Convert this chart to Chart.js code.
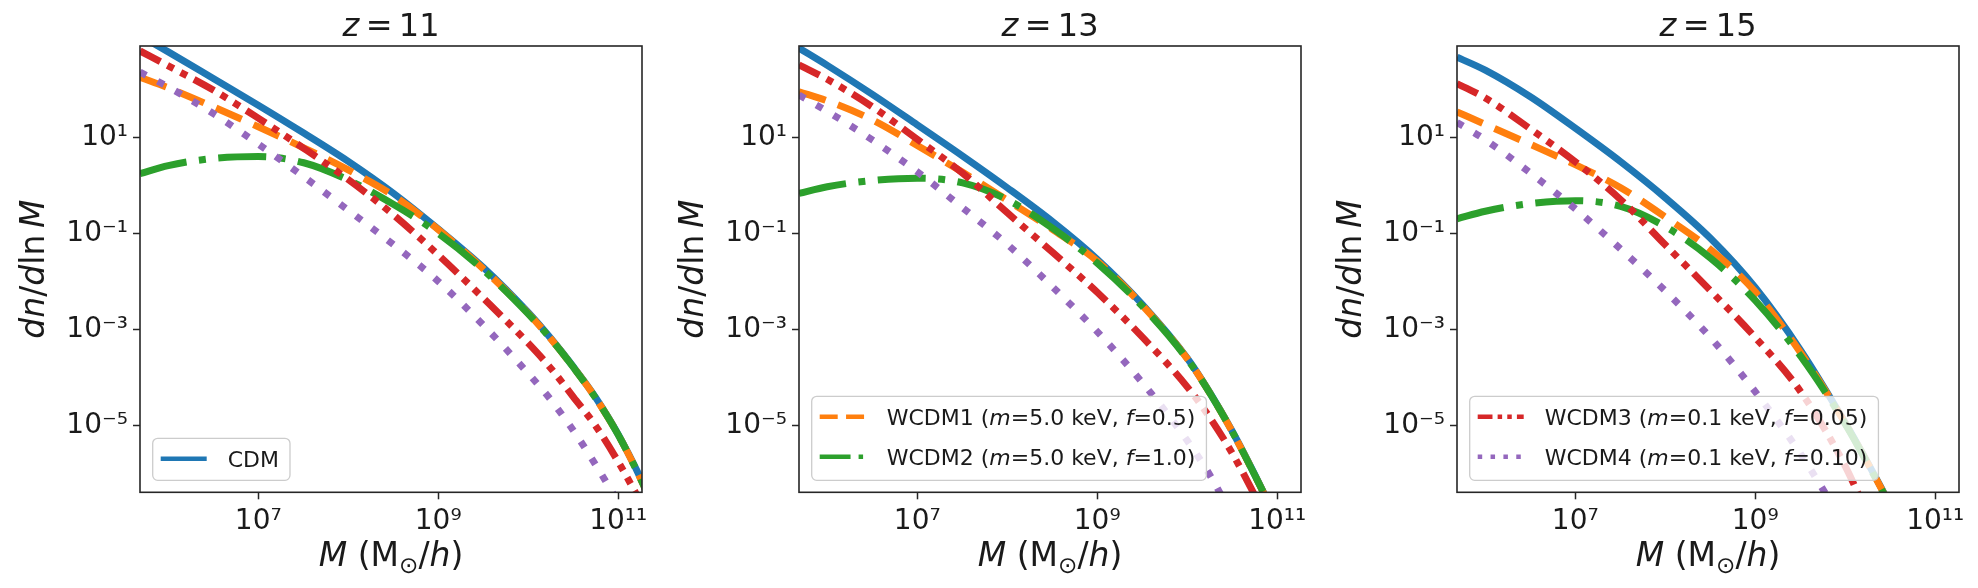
<!DOCTYPE html>
<html>
<head>
<meta charset="utf-8">
<script src="https://cdn.jsdelivr.net/npm/chart.js@4.4.0/dist/chart.umd.min.js"></script>
<style>
  html, body { margin: 0; padding: 0; background: #fff; }
  body { width: 1978px; height: 588px; position: relative; overflow: hidden; }
  canvas { position: absolute; top: 0; }
</style>
</head>
<body>
<canvas id="z11" width="660" height="588" style="left:0px;width:660px;height:588px"></canvas>
<canvas id="z13" width="660" height="588" style="left:659px;width:660px;height:588px"></canvas>
<canvas id="z15" width="660" height="588" style="left:1317px;width:660px;height:588px"></canvas>
<script>
// halo mass grid (M_sun/h), shared by all panels
const masses = [4.85e5, 1e6, 3.2e6, 1e7, 3.2e7, 1e8, 3.2e8, 1e9, 3.2e9, 1e10, 1.8e10, 3.2e10, 5.6e10, 1e11, 1.8e11, 3.2e11];
const redshifts = [11, 13, 15];
const seriesNames = ['CDM', 'WCDM1 (*m*=5.0 keV, *f*=0.5)', 'WCDM2 (*m*=5.0 keV, *f*=1.0)',
                     'WCDM3 (*m*=0.1 keV, *f*=0.05)', 'WCDM4 (*m*=0.1 keV, *f*=0.10)'];
const xTicks = [1e7, 1e9, 1e11];
const yTicks = [1e-5, 1e-3, 1e-1, 1e1];

// dn/dlnM, z = 11
const cdm11    = [1320, 603, 166, 46.8, 12.3, 3.16, 0.676, 0.123, 0.0191, 2.24e-3, 6.31e-4, 1.62e-4, 3.80e-5, 6.46e-6, 7.41e-7, 6.31e-8];
const wcdm1_11 = [178, 107, 42.7, 16.6, 6.03, 2.09, 0.603, 0.120, 0.0178, 2.14e-3, 6.17e-4, 1.58e-4, 3.72e-5, 6.31e-6, 7.24e-7, 6.31e-8];
const wcdm2_11 = [1.74, 2.57, 3.63, 3.98, 2.95, 1.29, 0.398, 0.100, 0.0170, 2.09e-3, 6.17e-4, 1.58e-4, 3.72e-5, 6.31e-6, 7.24e-7, 6.31e-8];
const wcdm3_11 = [631, 309, 95.5, 25.1, 5.89, 1.32, 0.240, 0.0355, 4.37e-3, 5.13e-4, 1.51e-4, 3.80e-5, 9.77e-6, 1.74e-6, 2.40e-7];
const wcdm4_11 = [229, 112, 30.9, 7.24, 1.51, 0.302, 0.0575, 0.0100, 1.20e-3, 1.20e-4, 3.31e-5, 7.59e-6, 1.51e-6, 2.51e-7];

// z = 13
const cdm13    = [724, 316, 77.6, 18.2, 4.07, 0.891, 0.174, 0.0288, 3.24e-3, 2.51e-4, 4.68e-5, 7.24e-6, 9.55e-7, 1.0e-7, 7.94e-9];
const wcdm1_13 = [89.1, 57.5, 22.9, 6.76, 1.86, 0.490, 0.120, 0.0263, 3.09e-3, 2.45e-4, 4.57e-5, 7.08e-6, 9.33e-7, 1.0e-7, 7.94e-9];
const wcdm2_13 = [0.676, 0.933, 1.26, 1.41, 1.12, 0.501, 0.126, 0.0240, 2.95e-3, 2.40e-4, 4.57e-5, 7.08e-6, 9.33e-7, 1.0e-7, 7.94e-9];
const wcdm3_13 = [324, 162, 42.7, 9.12, 1.78, 0.269, 0.0398, 5.89e-3, 6.76e-4, 6.31e-5, 1.41e-5, 2.51e-6, 3.55e-7, 3.98e-8];
const wcdm4_13 = [75.9, 34.7, 8.71, 1.91, 0.339, 0.0589, 7.59e-3, 8.91e-4, 7.59e-5, 4.79e-6, 8.91e-7, 1.26e-7];

// z = 15
const cdm15    = [468, 251, 69.2, 15.5, 3.09, 0.550, 0.0776, 7.41e-3, 3.63e-4, 1.12e-5, 1.58e-6, 2.09e-7, 2.51e-8];
const wcdm1_15 = [33.9, 18.6, 7.08, 2.69, 0.891, 0.219, 0.0457, 6.03e-3, 3.24e-4, 1.10e-5, 1.55e-6, 2.04e-7, 2.51e-8];
const wcdm2_15 = [0.200, 0.288, 0.417, 0.479, 0.363, 0.138, 0.0302, 3.98e-3, 2.75e-4, 1.07e-5, 1.51e-6, 2.0e-7, 2.51e-8];
const wcdm3_15 = [132, 66.1, 14.8, 3.09, 0.501, 0.0575, 6.31e-3, 6.76e-4, 5.01e-5, 1.41e-6, 1.26e-7];
const wcdm4_15 = [20.4, 8.91, 1.78, 0.324, 0.0468, 6.31e-3, 6.61e-4, 5.01e-5, 2.51e-6, 7.94e-8];

// styling
const colors = ['#1f77b4', '#ff7f0e', '#2ca02c', '#d62728', '#9467bd'];
const dashes = [[], [28, 13], [48, 12.5, 7, 12.5], [23, 8, 7, 8, 7, 8], [7, 13]];
const LW = 7;
const FAM = '"DejaVu Sans", sans-serif';
const INK = '#1a1a1a';
const FRAME = '#262626';

const SUP = {'-': '\u207b', '0': '\u2070', '1': '\u00b9', '2': '\u00b2', '3': '\u00b3', '4': '\u2074',
             '5': '\u2075', '6': '\u2076', '7': '\u2077', '8': '\u2078', '9': '\u2079'};
const powLabel = v => '10' + String(Math.round(Math.log10(v))).split('').map(c => SUP[c]).join('');

// *italic* and _subscript_ markup
function parseRuns(text) {
  return text.split(/(\*[^*]+\*|_[^_]+_)/).filter(s => s).map(s => {
    if (s[0] === '*') return {t: s.slice(1, -1), it: true};
    if (s[0] === '_') return {t: s.slice(1, -1), sub: true};
    return {t: s};
  });
}

function drawRich(ctx, text, x, y, size, align) {
  const parts = parseRuns(text);
  const fontOf = p => (p.it ? 'italic ' : '') + (p.sub ? size * 0.7 : size) + 'px ' + FAM;
  let w = 0;
  parts.forEach(p => { ctx.font = fontOf(p); p.w = ctx.measureText(p.t).width; w += p.w; });
  let cx = align === 'center' ? x - w / 2 : x;
  ctx.textAlign = 'left';
  ctx.textBaseline = 'alphabetic';
  parts.forEach(p => {
    ctx.font = fontOf(p);
    ctx.fillText(p.t, cx, p.sub ? y + size * 0.22 : y);
    cx += p.w;
  });
  return w;
}

function measureRich(ctx, text, size) {
  let w = 0;
  parseRuns(text).forEach(p => {
    ctx.font = (p.it ? 'italic ' : '') + (p.sub ? size * 0.7 : size) + 'px ' + FAM;
    w += ctx.measureText(p.t).width;
  });
  return w;
}

const panelDecor = {
  id: 'panelDecor',
  afterDatasetsDraw(chart, args, opts) {
    const {ctx, chartArea: a} = chart;
    ctx.save();
    ctx.strokeStyle = FRAME;
    ctx.lineWidth = 1.6;
    ctx.strokeRect(a.left, a.top, a.right - a.left, a.bottom - a.top);

    // legend box in the lower left of the axes
    const items = opts.items;
    const n = items.length;
    const LS = 22;
    const tw = Math.max(...items.map(i => measureRich(ctx, chart.data.datasets[i].label, LS)));
    const bx = a.left + 12.7, bh = 42 * n, by = a.bottom - 12 - bh, bw = 75 + tw + 11;
    ctx.beginPath();
    ctx.roundRect(bx, by, bw, bh, 5);
    ctx.fillStyle = 'rgba(255,255,255,0.8)';
    ctx.fill();
    ctx.strokeStyle = '#cccccc';
    ctx.lineWidth = 1.3;
    ctx.stroke();
    items.forEach((i, k) => {
      const ds = chart.data.datasets[i];
      const cy = by + 20.5 + 40 * k;
      ctx.strokeStyle = ds.borderColor;
      ctx.lineWidth = 4.5;
      ctx.lineCap = 'butt';
      ctx.setLineDash(ds.borderDash.map(d => d * 4.5 / LW));
      ctx.beginPath();
      ctx.moveTo(bx + 8, cy);
      ctx.lineTo(bx + 54, cy);
      ctx.stroke();
      ctx.setLineDash([]);
      ctx.fillStyle = INK;
      drawRich(ctx, ds.label, bx + 75, cy + 8, LS, 'left');
    });
    ctx.restore();
  },
  afterDraw(chart, args, opts) {
    const {ctx, chartArea: a} = chart;
    const cx = (a.left + a.right) / 2;
    ctx.save();
    ctx.fillStyle = INK;
    drawRich(ctx, '*z*\u2009=\u2009' + opts.z, cx, 36, 32, 'center');
    drawRich(ctx, '*M* (M_\u2299_/*h*)', cx, 566, 33, 'center');
    ctx.translate(a.left - 96, (a.top + a.bottom) / 2);
    ctx.rotate(-Math.PI / 2);
    drawRich(ctx, '*dn*/*d*ln\u2009*M*', 0, 0, 33, 'center');
    ctx.restore();
  }
};

const axisCommon = {
  type: 'logarithmic',
  border: { display: false },
  grid: { drawOnChartArea: false, drawTicks: true, tickLength: 7, tickWidth: 1.5, tickColor: FRAME, color: FRAME },
  ticks: { callback: v => powLabel(v), font: { family: 'DejaVu Sans', size: 28 }, color: INK, maxRotation: 0, autoSkip: false }
};

function makePanel(canvasId, z, series, legendItems) {
  const datasets = series.map((vals, k) => ({
    label: seriesNames[k],
    data: vals.map((v, i) => ({ x: masses[i], y: v })),
    borderColor: colors[k],
    borderWidth: LW,
    borderDash: dashes[k],
    borderCapStyle: 'butt',
    borderJoinStyle: 'round',
    cubicInterpolationMode: 'monotone',
    pointRadius: 0,
    clip: 0,
    order: 5 - k
  }));
  return new Chart(document.getElementById(canvasId), {
    type: 'line',
    data: { datasets },
    options: {
      responsive: false,
      animation: false,
      events: [],
      layout: { padding: { left: 0, right: 18, top: 46, bottom: 0 } },
      plugins: {
        legend: { display: false },
        tooltip: { enabled: false },
        panelDecor: { z, items: legendItems }
      },
      scales: {
        x: Object.assign({}, axisCommon, {
          min: 4.85e5, max: 1.84e11,
          afterBuildTicks: s => { s.ticks = xTicks.map(v => ({ value: v })); },
          afterFit: s => { s.height = 588 - 492.3; },
          ticks: Object.assign({}, axisCommon.ticks, { padding: 6 })
        }),
        y: Object.assign({}, axisCommon, {
          min: 4e-7, max: 800,
          afterBuildTicks: s => { s.ticks = yTicks.map(v => ({ value: v })); },
          afterFit: s => { s.width = 140; },
          ticks: Object.assign({}, axisCommon.ticks, { padding: 5 })
        })
      }
    },
    plugins: [panelDecor]
  });
}

makePanel('z11', redshifts[0], [cdm11, wcdm1_11, wcdm2_11, wcdm3_11, wcdm4_11], [0]);
makePanel('z13', redshifts[1], [cdm13, wcdm1_13, wcdm2_13, wcdm3_13, wcdm4_13], [1, 2]);
makePanel('z15', redshifts[2], [cdm15, wcdm1_15, wcdm2_15, wcdm3_15, wcdm4_15], [3, 4]);
</script>
</body>
</html>
